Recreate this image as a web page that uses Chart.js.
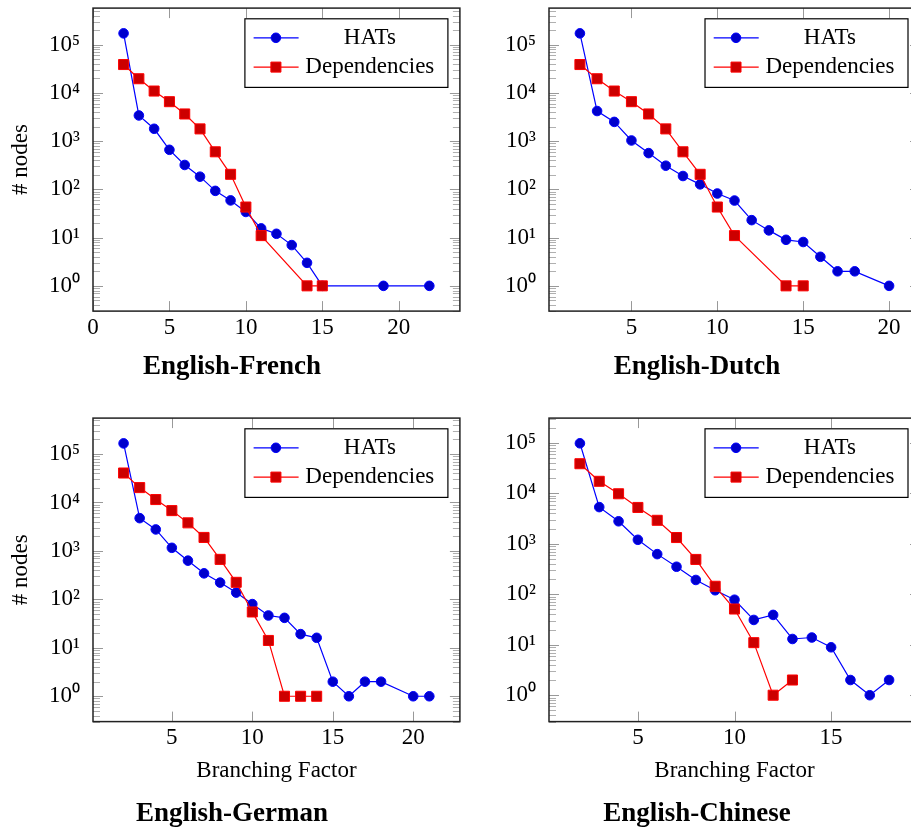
<!DOCTYPE html>
<html><head><meta charset="utf-8">
<script src="https://cdn.jsdelivr.net/npm/chart.js@4.4.1/dist/chart.umd.min.js"></script>
<style>
html,body{margin:0;padding:0;background:#fff;overflow:hidden;width:911px;height:832px;position:relative;}
canvas{position:absolute;}
</style></head><body>
<canvas id="c1" width="468" height="383" style="left:0px;top:0px"></canvas>
<canvas id="c2" width="468" height="383" style="left:474px;top:0px"></canvas>
<canvas id="c3" width="468" height="420" style="left:0px;top:410px"></canvas>
<canvas id="c4" width="468" height="420" style="left:474px;top:410px"></canvas>
<script>
// ---------------- data ----------------
const seriesNames = ['HATs', 'Dependencies'];
const panelTitles = ['English-French', 'English-Dutch', 'English-German', 'English-Chinese'];
const yAxisLabel = '# nodes';
const xAxisLabel = 'Branching Factor';
const xTickValues = [0, 5, 10, 15, 20];
const yTickValues = [1, 10, 100, 1000, 10000, 100000];

const frHatsX = [2,3,4,5,6,7,8,9,10,11,12,13,14,15,19,22];
const frHatsY = [171000,3400,1800,660,320,183,93,59,34,15.5,12,7,3,1,1,1];
const frDepX  = [2,3,4,5,6,7,8,9,10,11,14,15];
const frDepY  = [38600,19600,10900,6560,3650,1790,600,205,43,11,1,1];

const nlHatsX = [2,3,4,5,6,7,8,9,10,11,12,13,14,15,16,17,18,20];
const nlHatsY = [171000,4200,2500,1030,564,309,189,127,82,58.6,23,14.1,9,8.1,4,2,2,1];
const nlDepX  = [2,3,4,5,6,7,8,9,10,11,14,15];
const nlDepY  = [38600,19600,10900,6560,3650,1790,600,205,43,11,1,1];

const deHatsX = [2,3,4,5,6,7,8,9,10,11,12,13,14,15,16,17,18,20,21];
const deHatsY = [166000,4750,2780,1160,630,345,222,138,80,46.5,41.6,19.2,16.1,2,1,2,2,1,1];
const deDepX  = [2,3,4,5,6,7,8,9,10,11,12,13,14];
const deDepY  = [40600,20300,11500,6800,3800,1900,670,225,55,14.2,1,1,1];

const zhHatsX = [2,3,4,5,6,7,8,9,10,11,12,13,14,15,16,17,18];
const zhHatsY = [98000,5330,2790,1200,624,351,192,120,78,31,39,13,13.9,8.9,2,1,2];
const zhDepX  = [2,3,4,5,6,7,8,9,10,11,12,13];
const zhDepY  = [38600,17300,9800,5250,2920,1330,490,144,51,11,1,2];

// ---------------- styling ----------------
const FONT = '"Liberation Serif", "Times New Roman", serif';
const SUP = ['\u2070','\u00B9','\u00B2','\u00B3','\u2074','\u2075','\u2076','\u2077','\u2078','\u2079'];
Chart.defaults.color = '#000';
Chart.defaults.font.family = FONT;

function pairs(xs, ys) { return xs.map((x, i) => ({x: x, y: ys[i]})); }

function line(ctx, x1, y1, x2, y2) { ctx.beginPath(); ctx.moveTo(x1, y1); ctx.lineTo(x2, y2); ctx.stroke(); }

const framePlugin = {
  id: 'pgfFrame',
  beforeDatasetsDraw(chart) {
    const ctx = chart.ctx, a = chart.chartArea, xs = chart.scales.x, ys = chart.scales.y;
    ctx.save();
    ctx.lineWidth = 1;
    const eLo = Math.floor(Math.log10(ys.min)), eHi = Math.ceil(Math.log10(ys.max));
    ctx.strokeStyle = '#b0b0b0';
    for (let e = eLo; e <= eHi; e++) {
      for (let m = 2; m <= 9; m++) {
        const v = m * Math.pow(10, e);
        if (v < ys.min || v > ys.max) continue;
        const py = Math.round(ys.getPixelForValue(v)) + 0.5;
        line(ctx, a.left, py, a.left + 7, py);
        line(ctx, a.right, py, a.right - 7, py);
      }
    }
    ctx.strokeStyle = '#999';
    ys.ticks.forEach(t => {
      const py = Math.round(ys.getPixelForValue(t.value)) + 0.5;
      line(ctx, a.left, py, a.left + 10, py);
      line(ctx, a.right, py, a.right - 10, py);
    });
    xs.ticks.forEach(t => {
      const px = Math.round(xs.getPixelForValue(t.value)) + 0.5;
      line(ctx, px, a.bottom, px, a.bottom - 10);
      line(ctx, px, a.top, px, a.top + 10);
    });
    ctx.strokeStyle = '#222';
    ctx.lineWidth = 1.5;
    ctx.strokeRect(a.left, a.top, a.right - a.left, a.bottom - a.top);
    ctx.restore();
  },
  afterDatasetsDraw(chart) {
    const ctx = chart.ctx, a = chart.chartArea;
    const ds = chart.data.datasets;
    ctx.save();
    ctx.font = '23px ' + FONT;
    const tw = Math.max.apply(null, ds.map(d => ctx.measureText(d.label).width));
    const boxW = 60.4 + tw + 13.6, boxH = 68.6;
    const bx = a.right - 12 - boxW, by = a.top + 10.7;
    ctx.fillStyle = '#fff';
    ctx.fillRect(bx, by, boxW, boxH);
    ctx.strokeStyle = '#000';
    ctx.lineWidth = 1.2;
    ctx.strokeRect(bx, by, boxW, boxH);
    ds.forEach((d, i) => {
      const cy = by + 19 + i * 29.3;
      ctx.strokeStyle = d.borderColor;
      ctx.lineWidth = 1.2;
      line(ctx, bx + 8.7, cy, bx + 53.7, cy);
      const mx = bx + 31;
      ctx.fillStyle = d.pointBackgroundColor;
      ctx.strokeStyle = d.pointBorderColor;
      ctx.lineWidth = 1;
      ctx.beginPath();
      if (d.pointStyle === 'circle') {
        ctx.arc(mx, cy, d.pointRadius, 0, Math.PI * 2);
      } else {
        const h = d.pointRadius * Math.SQRT1_2;
        ctx.rect(mx - h, cy - h, 2 * h, 2 * h);
      }
      ctx.fill(); ctx.stroke();
      ctx.fillStyle = '#000';
      ctx.textAlign = 'center';
      ctx.textBaseline = 'middle';
      ctx.fillText(d.label, bx + 60.4 + tw / 2, cy);
    });
    ctx.restore();
  }
};

function makeChart(id, title, hx, hy, dx, dy, cfg) {
  const allX = hx.concat(dx), allY = hy.concat(dy);
  const x0 = Math.min.apply(null, allX), x1 = Math.max.apply(null, allX);
  const l0 = Math.log10(Math.min.apply(null, allY)), l1 = Math.log10(Math.max.apply(null, allY));
  const xr = x1 - x0, lr = l1 - l0;
  return new Chart(document.getElementById(id), {
    type: 'line',
    data: {
      datasets: [
        { label: seriesNames[0], data: pairs(hx, hy), borderColor: '#0000ff', borderWidth: 1.2,
          pointStyle: 'circle', pointRadius: 4.8, pointBackgroundColor: '#0000cc', pointBorderColor: '#0000ff',
          pointBorderWidth: 1, order: 1, tension: 0, fill: false },
        { label: seriesNames[1], data: pairs(dx, dy), borderColor: '#ff0000', borderWidth: 1.2,
          pointStyle: 'rect', pointRadius: 7.1, pointBackgroundColor: '#cc0000', pointBorderColor: '#ff0000',
          pointBorderWidth: 1, order: 0, tension: 0, fill: false }
      ]
    },
    options: {
      responsive: false, animation: false, events: [],
      layout: { padding: { left: 0, top: 6, right: cfg.padRight, bottom: 0 } },
      plugins: {
        legend: { display: false }, tooltip: { enabled: false },
        title: { display: true, position: 'bottom', text: title, color: '#000',
                 font: { family: FONT, size: 27, weight: 'bold' }, padding: { top: cfg.titlePad, bottom: 0 } }
      },
      scales: {
        x: {
          type: 'linear', min: x0 - 0.1 * xr, max: x1 + 0.1 * xr,
          afterBuildTicks: s => { s.ticks = xTickValues.filter(v => v >= s.min && v <= s.max).map(v => ({value: v})); },
          ticks: { font: { family: FONT, size: 23 }, padding: 3, maxRotation: 0, autoSkip: false, color: '#000' },
          grid: { display: false, drawTicks: false }, border: { display: false },
          title: { display: cfg.xTitle, text: xAxisLabel, font: { family: FONT, size: 23 }, padding: { top: 0, bottom: 0 }, color: '#000' },
          afterFit: s => { s.height = cfg.xH; s.paddingLeft = 0; s.paddingRight = 0; }
        },
        y: {
          type: 'logarithmic', min: Math.pow(10, l0 - 0.1 * lr), max: Math.pow(10, l1 + 0.1 * lr),
          afterBuildTicks: s => { s.ticks = yTickValues.filter(v => v >= s.min && v <= s.max).map(v => ({value: v})); },
          ticks: { font: { family: FONT, size: 23 }, padding: 13, color: '#000', autoSkip: false,
                   callback: v => '10' + SUP[Math.round(Math.log10(v))] },
          grid: { display: false, drawTicks: false }, border: { display: false },
          title: { display: cfg.yTitle, text: yAxisLabel, font: { family: FONT, size: 23 }, padding: { top: 7, bottom: 0 }, color: '#000' },
          afterFit: s => { s.width = cfg.yW; s.paddingTop = 0; s.paddingBottom = 0; }
        }
      }
    },
    plugins: [framePlugin]
  });
}

makeChart('c1', panelTitles[0], frHatsX, frHatsY, frDepX, frDepY, { padRight: 4, yW: 93, xH: 30, titlePad: 9.5, xTitle: false, yTitle: true });
makeChart('c2', panelTitles[1], nlHatsX, nlHatsY, nlDepX, nlDepY, { padRight: 22, yW: 75, xH: 30, titlePad: 9.5, xTitle: false, yTitle: false });
makeChart('c3', panelTitles[2], deHatsX, deHatsY, deDepX, deDepY, { padRight: 4, yW: 93, xH: 63, titlePad: 13, xTitle: true, yTitle: true });
makeChart('c4', panelTitles[3], zhHatsX, zhHatsY, zhDepX, zhDepY, { padRight: 22, yW: 75, xH: 63, titlePad: 13, xTitle: true, yTitle: false });
</script>
</body></html>
